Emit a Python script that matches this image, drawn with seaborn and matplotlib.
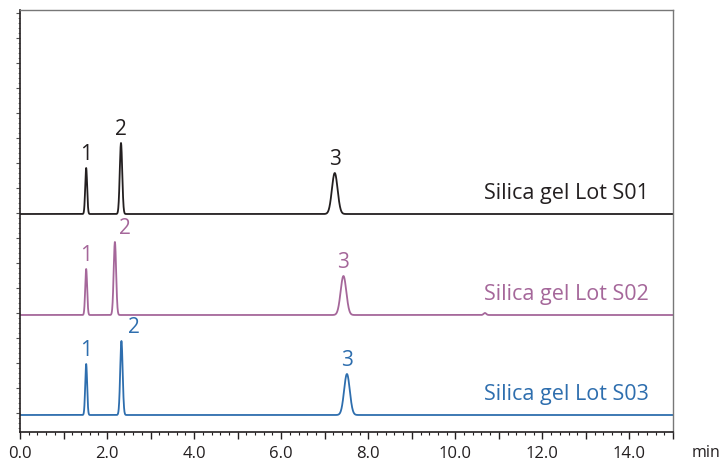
import numpy as np
import pandas as pd
import matplotlib.pyplot as plt
import seaborn as sns
from matplotlib.ticker import MultipleLocator, FuncFormatter

# peak tables per lot: retention time (min), height, width (sigma, min)
lots = ['Silica gel Lot S01', 'Silica gel Lot S02', 'Silica gel Lot S03']
colors = ['#231f20', '#a5679a', '#2e6eae']
baselines = [199, 98, -2]
rt = [[1.52, 2.32, 7.23],
      [1.52, 2.18, 7.43],
      [1.52, 2.33, 7.51]]
heights = [[46, 71, 41],
           [46, 73, 39],
           [51, 74, 41]]
sigmas = [[0.022, 0.028, 0.065],
          [0.022, 0.028, 0.065],
          [0.022, 0.028, 0.065]]
# small extra bump in lot S02
extra = [None, (10.68, 2.0, 0.03), None]
peak_names = ['1', '2', '3']
label_dx = [[0.0, 0.0, 0.0],
            [0.0, 0.22, 0.0],
            [0.0, 0.28, 0.0]]

t = np.linspace(0, 15, 6001)
frames = []
for i, lot in enumerate(lots):
    y = np.full_like(t, baselines[i], dtype=float)
    for r, h, s in zip(rt[i], heights[i], sigmas[i]):
        y += h * np.exp(-0.5 * ((t - r) / s) ** 2)
    if extra[i] is not None:
        r, h, s = extra[i]
        y += h * np.exp(-0.5 * ((t - r) / s) ** 2)
    frames.append(pd.DataFrame({'time': t, 'signal': y, 'lot': lot}))
df = pd.concat(frames)

sns.set_style('white')
plt.rcParams['font.family'] = ['Open Sans', 'DejaVu Sans']

fig = plt.figure(figsize=(7.21, 4.61), dpi=100)
ax = fig.add_axes([20 / 721, 1 - 432 / 461, 653 / 721, 422 / 461])

sns.lineplot(data=df, x='time', y='signal', hue='lot', palette=colors,
             linewidth=1.3, legend=False, ax=ax, estimator=None)

for i, lot in enumerate(lots):
    for j, name in enumerate(peak_names):
        ax.text(rt[i][j] + label_dx[i][j], baselines[i] + heights[i][j] + 3,
                name, color=colors[i], fontsize=15, ha='center', va='bottom')
    ax.text(14.45, baselines[i] + 10, lot, color=colors[i], fontsize=15.5,
            ha='right', va='bottom')

ax.set_xlim(0, 15)
ax.set_ylim(-19, 403)
ax.set_xlabel('')
ax.set_ylabel('')

ax.xaxis.set_major_locator(MultipleLocator(1))
ax.xaxis.set_minor_locator(MultipleLocator(0.2))
ax.xaxis.set_major_formatter(FuncFormatter(
    lambda v, p: f'{v:.1f}' if round(v) % 2 == 0 else ''))
ax.yaxis.set_major_locator(MultipleLocator(25))
ax.yaxis.set_minor_locator(MultipleLocator(5))
ax.yaxis.set_major_formatter(FuncFormatter(lambda v, p: ''))

ax.tick_params(axis='x', which='major', direction='out', length=5, width=1,
               color='#231f20', labelsize=12, labelcolor='#231f20', pad=5,
               bottom=True)
ax.tick_params(axis='x', which='minor', direction='out', length=2, width=0.8,
               color='#231f20', bottom=True)
ax.tick_params(axis='y', which='major', direction='out', length=3, width=0.8,
               color='#555555', left=True)
ax.tick_params(axis='y', which='minor', direction='out', length=1.5, width=0.6,
               color='#777777', left=True)

for side in ['left', 'bottom']:
    ax.spines[side].set_color('#231f20')
    ax.spines[side].set_linewidth(1.2)
for side in ['top', 'right']:
    ax.spines[side].set_color('#777777')
    ax.spines[side].set_linewidth(1.0)

ax.text(1.028, -0.05, 'min', transform=ax.transAxes, fontsize=11.5,
        color='#231f20', ha='left', va='center')

fig.savefig('out.png', dpi=100)
